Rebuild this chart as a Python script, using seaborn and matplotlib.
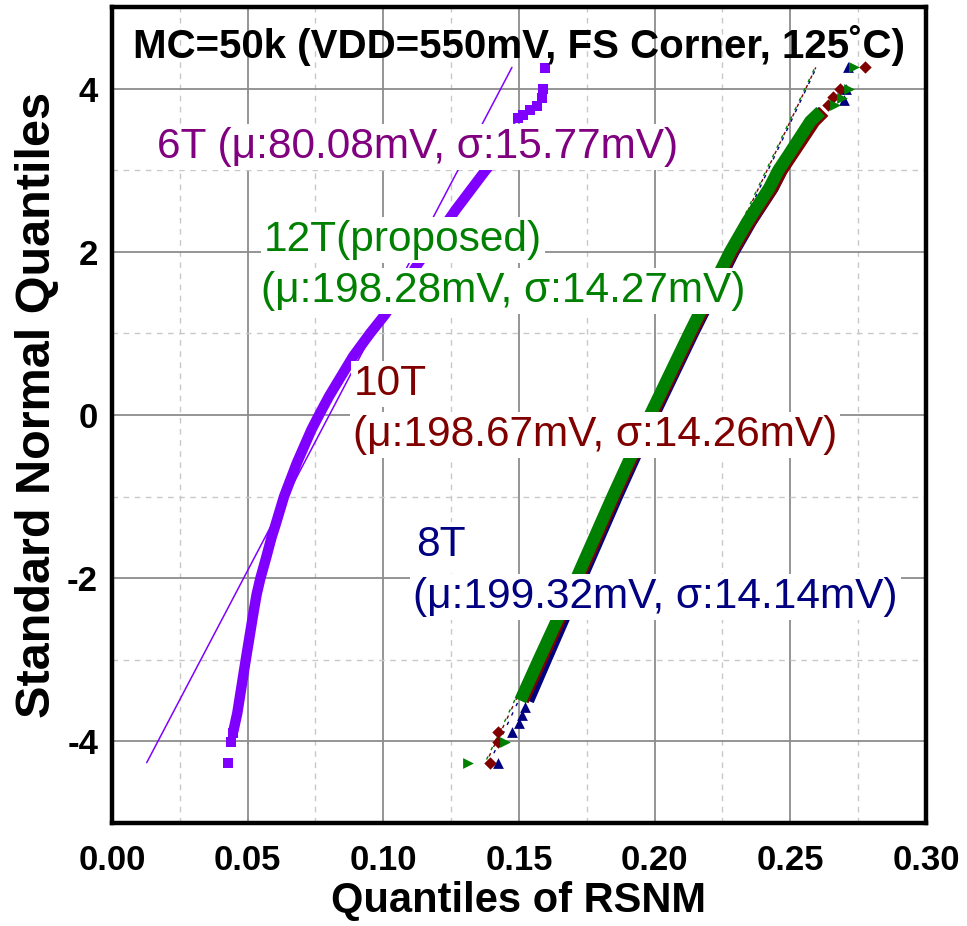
import numpy as np
import pandas as pd
import matplotlib
matplotlib.use("Agg")
import matplotlib.pyplot as plt
import seaborn as sns
from matplotlib.ticker import MultipleLocator, FixedLocator

# ---------------- data ----------------
# 6T: dense band of Q-Q points (RSNM quantile [V], standard normal quantile)
x6_band = [0.0447, 0.0462, 0.0493, 0.0521, 0.0533, 0.0547, 0.0568, 0.0588,
           0.0601, 0.0634, 0.0681, 0.0735, 0.0763, 0.0800, 0.0859, 0.0889,
           0.0951, 0.1006, 0.1129, 0.1268, 0.1377, 0.1450, 0.1497]
y6_band = [-3.88, -3.65, -3.00, -2.43, -2.20, -2.00, -1.75, -1.50,
           -1.365, -1.00, -0.59, -0.18, 0.00, 0.23, 0.555, 0.72,
           1.00, 1.23, 1.86, 2.52, 3.00, 3.30, 3.55]
x6_tail = [0.0429, 0.0439, 0.0445, 0.1497, 0.1515, 0.1540, 0.1565, 0.1583, 0.1589, 0.1595]
y6_tail = [-4.26, -4.01, -3.90, 3.64, 3.68, 3.74, 3.79, 3.885, 4.00, 4.25]

# 8T / 10T / 12T dense bands
y_band = [-3.50, -3.00, -2.00, -1.00, 0.00, 1.00, 2.00, 2.37, 2.78, 3.00, 3.19, 3.39, 3.60, 3.72]
x12_band = [0.1505, 0.1573, 0.1712, 0.1845, 0.1983, 0.2128, 0.2278, 0.2342, 0.2422,
            0.2456, 0.2494, 0.2533, 0.2574, 0.2612]
x10_band = [0.1514, 0.1582, 0.1720, 0.1852, 0.1990, 0.2135, 0.2286, 0.2351, 0.2433,
            0.2468, 0.2506, 0.2546, 0.2588, 0.2624]
x8_band = [0.1533, 0.1598, 0.1729, 0.1860, 0.1996, 0.2140, 0.2290, 0.2354, 0.2434,
           0.2467, 0.2504, 0.2544, 0.2584, 0.2620]

x8_tail = [0.1424, 0.1473, 0.1501, 0.1510, 0.1522, 0.2699, 0.2707, 0.2713]
y8_tail = [-4.26, -3.88, -3.77, -3.67, -3.58, 3.86, 4.00, 4.26]
x10_tail = [0.1393, 0.1424, 0.1424, 0.2639, 0.2658, 0.2682, 0.2775]
y10_tail = [-4.26, -4.01, -3.88, 3.80, 3.90, 4.00, 4.26]
x12_tail = [0.1313, 0.1448, 0.2664, 0.2689, 0.2717, 0.2735]
y12_tail = [-4.26, -4.01, 3.80, 3.88, 4.00, 4.26]

# normal reference lines (end points)
ref_y = [-4.26, 4.26]
ref6_x = [0.0128, 0.1474]
ref8_x = [0.1391, 0.2596]
ref10_x = [0.1379, 0.2594]
ref12_x = [0.1375, 0.2591]

x_ticks = [0.00, 0.05, 0.10, 0.15, 0.20, 0.25, 0.30]
x_tick_labels = ["0.00", "0.05", "0.10", "0.15", "0.20", "0.25", "0.30"]
y_ticks = [-4, -2, 0, 2, 4]
y_tick_labels = ["-4", "-2", "0", "2", "4"]

title_text = "MC=50k (VDD=550mV, FS Corner, 125˚C)"
labels = [
    ("6T (μ:80.08mV, σ:15.77mV)", 0.0166, 3.15, "#800080"),
    ("12T(proposed)", 0.0560, 2.005, "#008000"),
    ("(μ:198.28mV, σ:14.27mV)", 0.0550, 1.39, "#008000"),
    ("10T", 0.0890, 0.25, "#800000"),
    ("(μ:198.67mV, σ:14.26mV)", 0.0888, -0.385, "#800000"),
    ("8T", 0.1120, -1.73, "#000080"),
    ("(μ:199.32mV, σ:14.14mV)", 0.1110, -2.365, "#000080"),
]

C6, C8, C10, C12 = "#8000FF", "#000080", "#800000", "#008000"

# ---------------- figure ----------------
sns.set_style("white")
plt.rcParams["font.family"] = ["Liberation Sans", "DejaVu Sans"]
plt.rcParams["axes.unicode_minus"] = False
for k in ["text.color", "axes.labelcolor", "xtick.color", "ytick.color"]:
    plt.rcParams[k] = "black"

fig = plt.figure(figsize=(9.67, 9.26), dpi=100)
ax = fig.add_axes([0.1158, 0.1112, 0.8418, 0.8812])

# reference lines
sns.lineplot(x=ref6_x, y=ref_y, ax=ax, color=C6, linewidth=1.1, sort=False, estimator=None, zorder=3)
for rx, c, off in [(ref8_x, C8, 0), (ref10_x, C10, 2.5), (ref12_x, C12, 5)]:
    sns.lineplot(x=rx, y=ref_y, ax=ax, color=c, linewidth=1.0, sort=False, estimator=None,
                 zorder=3, linestyle=(off, (2.5, 5)))

# dense bands
band_kw = dict(sort=False, estimator=None, solid_capstyle="butt", solid_joinstyle="round")
sns.lineplot(x=x6_band, y=y6_band, ax=ax, color=C6, linewidth=7.5, zorder=4, **band_kw)
sns.lineplot(x=x8_band, y=y_band, ax=ax, color=C8, linewidth=9, zorder=4, **band_kw)
sns.lineplot(x=x10_band, y=y_band, ax=ax, color=C10, linewidth=9, zorder=4.1, **band_kw)
sns.lineplot(x=x12_band, y=y_band, ax=ax, color=C12, linewidth=9, zorder=4.2, **band_kw)

# tail markers
sns.scatterplot(x=x6_tail, y=y6_tail, ax=ax, color=C6, marker="s", s=45, linewidth=0, zorder=5)
sns.scatterplot(x=x8_tail, y=y8_tail, ax=ax, color=C8, marker="^", s=60, linewidth=0, zorder=5)
sns.scatterplot(x=x10_tail, y=y10_tail, ax=ax, color=C10, marker="D", s=40, linewidth=0, zorder=5.1)
sns.scatterplot(x=x12_tail, y=y12_tail, ax=ax, color=C12, marker=">", s=60, linewidth=0, zorder=5.2)

# axes styling
ax.set_xlim(0.0, 0.30)
ax.set_ylim(-5, 5)
ax.xaxis.set_major_locator(FixedLocator(x_ticks))
ax.set_xticklabels(x_tick_labels)
ax.xaxis.set_minor_locator(MultipleLocator(0.025))
ax.yaxis.set_major_locator(FixedLocator(y_ticks))
ax.set_yticklabels(y_tick_labels)
ax.yaxis.set_minor_locator(MultipleLocator(1))

ax.grid(which="major", color="#8c8c8c", linewidth=1.3, linestyle="-", zorder=0)
ax.grid(which="minor", color="#c8c8c8", linewidth=1.0, linestyle=(0, (4, 4)), zorder=0)
ax.set_axisbelow(True)

for s in ax.spines.values():
    s.set_linewidth(3.2)
    s.set_color("black")

ax.tick_params(axis="both", which="major", direction="in", length=13, width=3.2,
               labelsize=25, pad=10)
ax.tick_params(axis="both", which="minor", direction="in", length=7, width=3.2)
ax.tick_params(axis="x", which="major", pad=15)
for lab in ax.get_xticklabels() + ax.get_yticklabels():
    lab.set_fontweight("bold")

ax.set_xlabel("Quantiles of RSNM", fontsize=30, fontweight="bold")
ax.set_ylabel("Standard Normal Quantiles", fontsize=35, fontweight="bold")
ax.xaxis.set_label_coords(0.500, -0.071)
ax.yaxis.set_label_coords(-0.064, 0.512)

ax.text(0.0077, 4.375, title_text, fontsize=29, fontweight="bold", color="black",
        ha="left", va="baseline", zorder=6)
for txt, x, y, c in labels:
    ax.text(x, y, txt, fontsize=30.5, color=c, ha="left", va="baseline", zorder=6,
            bbox=dict(facecolor="white", edgecolor="none", pad=2))

fig.savefig("out.png", dpi=100)
